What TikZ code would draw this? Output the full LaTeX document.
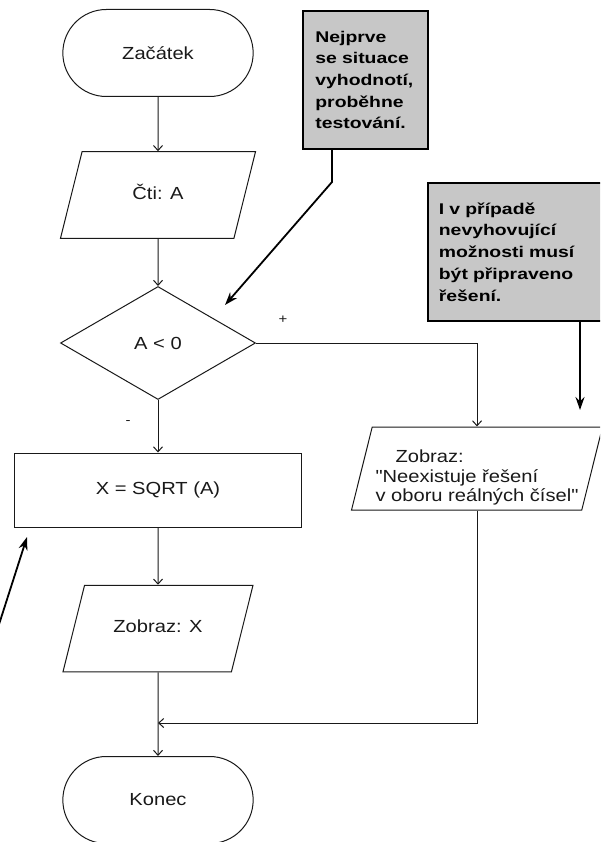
\documentclass[tikz,border=0pt]{standalone}
\usepackage{fontspec}
\setmainfont[FakeStretch=1.15,Ligatures=TeXOff]{Liberation Sans}
\newfontfamily\notefont[FakeStretch=1.25]{Liberation Sans}
\usetikzlibrary{arrows.meta,shapes.geometric,shapes.misc}
\definecolor{NoteClr}{gray}{0.78}
\definecolor{LineClr}{gray}{0.1}

\begin{document}
\begin{tikzpicture}[x=1pt,y=-1pt,
  every node/.style={font=\fontsize{17.5}{19.5}\selectfont,text=LineClr},
  term/.style={draw=LineClr,line width=1pt,rounded rectangle,minimum width=197pt,minimum height=87pt},
  io/.style={draw=LineClr,line width=1pt,trapezium,trapezium left angle=76,trapezium right angle=104,trapezium stretches body,
    text height=12pt,text depth=3.5pt,inner ysep=35.5pt},
  proc/.style={draw=LineClr,line width=1pt,rectangle,minimum width=287pt,minimum height=74pt},
  test/.style={draw=LineClr,line width=1pt,diamond,minimum width=195pt,minimum height=113pt,inner sep=0pt},
  note/.style={draw=black,line width=1.8pt,fill=NoteClr,anchor=north west,align=left,minimum height=138pt,inner ysep=0pt,
    font=\notefont\bfseries\fontsize{15.5}{21.7}\selectfont,text=black},
  sign/.style={font=\fontsize{13}{13}\selectfont},
  flow/.style={draw=LineClr,line width=1pt,-{Straight Barb[length=5pt,width=9pt]}},
  pointer/.style={draw=black,line width=1.8pt,-{Stealth[length=13pt,width=9pt]}}]

\useasboundingbox (0,0) rectangle (600,842);
\clip (0,0) rectangle (600,842);

\node[term] (start) at (158,53) {Začátek};
\node[io,minimum width=195pt] (read) at (158,195) {Čti: A};
\node[test] (test) at (158,343) {A < 0};
\node[proc] (root) at (158,490) {X = SQRT (A)};
\node[io,minimum width=190pt] (show) at (158,628.5) {Zobraz: X};
\node[term] (stop) at (158,800) {Konec};
\node[io,minimum width=250pt,align=left,text height=66pt,text depth=0pt,inner ysep=8.5pt] (msg) at (477,468.5)
  {\hspace{20pt}Zobraz:\\"Neexistuje řešení\\v oboru reálných čísel"};

\node[sign] (plus) at (283,320) {+};
\node[sign] (minus) at (128,423) {-};

\node[note,text width=100pt,inner xsep=12.5pt] (note1) at (302,10)
  {Nejprve\\se situace\\vyhodnotí,\\proběhne\\testování.};
\node[note,text width=160pt,inner xsep=11pt] (note2) at (427,182)
  {I v případě\\nevyhovující\\možnosti musí\\být připraveno\\řešení.};

\coordinate (merge) at (158,723);
\draw[flow] (start) -- (read);
\draw[flow] (read) -- (test);
\draw[flow] (test) -- (root);
\draw[flow] (test.east) -| (msg.north);
\draw[flow] (root) -- (show);
\draw[flow] (show) -- (stop);
\draw[flow] (msg.south) |- (merge);

\coordinate (bend) at (332,182);
\coordinate (hint1) at (225,305);
\coordinate (hint2) at (580,410);
\coordinate (tail3) at (-6,640);
\coordinate (hint3) at (27,537);
\draw[pointer] (note1.south -| bend) -- (bend) -- (hint1);
\draw[pointer] (note2.south -| hint2) -- (hint2);
\draw[pointer] (tail3) -- (hint3);

\end{tikzpicture}
\end{document}
